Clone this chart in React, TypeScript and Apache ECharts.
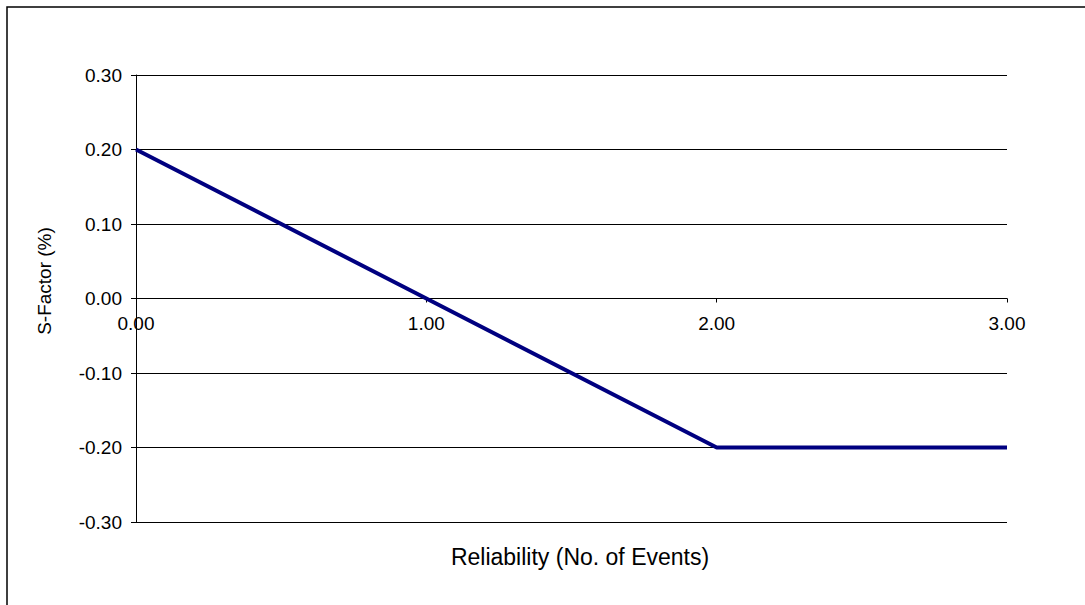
import React, { useEffect, useRef } from "react";
import * as echarts from "echarts";

// S-Factor versus reliability (number of events)
const events: number[] = [0, 1, 2, 3];
const sFactor: number[] = [0.2, 0, -0.2, -0.2];

const yMin = -0.3;
const yMax = 0.3;
const yStep = 0.1;
const xMin = 0;
const xMax = 3;
const xStep = 1;

const xTitle = "Reliability (No. of Events)";
const yTitle = "S-Factor (%)";

const FONT = "'Liberation Sans', Arial, sans-serif";

const GRID_TOP = 75;
const GRID_BOTTOM = 83;
const CHART_H = 605;

export default function App() {
  const ref = useRef<HTMLDivElement>(null);

  useEffect(() => {
    document.body.style.margin = "0";
    if (!ref.current) return;
    const chart = echarts.init(ref.current, null, { renderer: "svg" });

    const points = events.map((x, i) => [x, sFactor[i]]);

    // Lift the horizontal axis from the bottom edge up to the y = 0 line
    const plotH = CHART_H - GRID_TOP - GRID_BOTTOM;
    const zeroOffset = -plotH * ((0 - yMin) / (yMax - yMin));

    chart.setOption({
      animation: false,
      backgroundColor: "#ffffff",
      textStyle: { fontFamily: FONT },
      grid: { left: 136, top: GRID_TOP, right: 78, bottom: GRID_BOTTOM, containLabel: false },
      xAxis: {
        type: "value",
        min: xMin,
        max: xMax,
        interval: xStep,
        position: "bottom",
        offset: zeroOffset,
        axisLine: { onZero: false, lineStyle: { color: "#000", width: 1 } },
        axisTick: { show: true, length: 4, lineStyle: { color: "#000" } },
        axisLabel: {
          color: "#000",
          fontSize: 19,
          fontFamily: FONT,
          margin: 15,
          formatter: (v: number) => v.toFixed(2),
        },
        splitLine: { show: false },
      },
      yAxis: {
        type: "value",
        min: yMin,
        max: yMax,
        interval: yStep,
        axisLine: { show: true, lineStyle: { color: "#000", width: 1 } },
        axisTick: { show: true, length: 5, lineStyle: { color: "#000" } },
        axisLabel: {
          color: "#000",
          fontSize: 19,
          fontFamily: FONT,
          margin: 14,
          formatter: (v: number) => v.toFixed(2),
        },
        splitLine: { show: true, lineStyle: { color: "#000", width: 1 } },
      },
      graphic: [
        {
          type: "rect",
          shape: { x: 7, y: 7, width: 1200, height: 800 },
          style: { fill: "none", stroke: "#000", lineWidth: 1.5 },
          silent: true,
        },
        {
          type: "text",
          x: 580,
          y: 557,
          style: {
            text: xTitle,
            fill: "#000",
            font: `23px ${FONT}`,
            textAlign: "center",
            textVerticalAlign: "middle",
          },
        },
        {
          type: "text",
          x: 44,
          y: 281,
          rotation: Math.PI / 2,
          style: {
            text: yTitle,
            fill: "#000",
            font: `19px ${FONT}`,
            textAlign: "center",
            textVerticalAlign: "middle",
          },
        },
      ],
      series: [
        {
          type: "line",
          data: points,
          showSymbol: false,
          symbol: "none",
          lineStyle: { color: "#000080", width: 4 },
          itemStyle: { color: "#000080" },
        },
      ],
    });

    return () => chart.dispose();
  }, []);

  return <div ref={ref} style={{ width: 1085, height: 605 }} />;
}
